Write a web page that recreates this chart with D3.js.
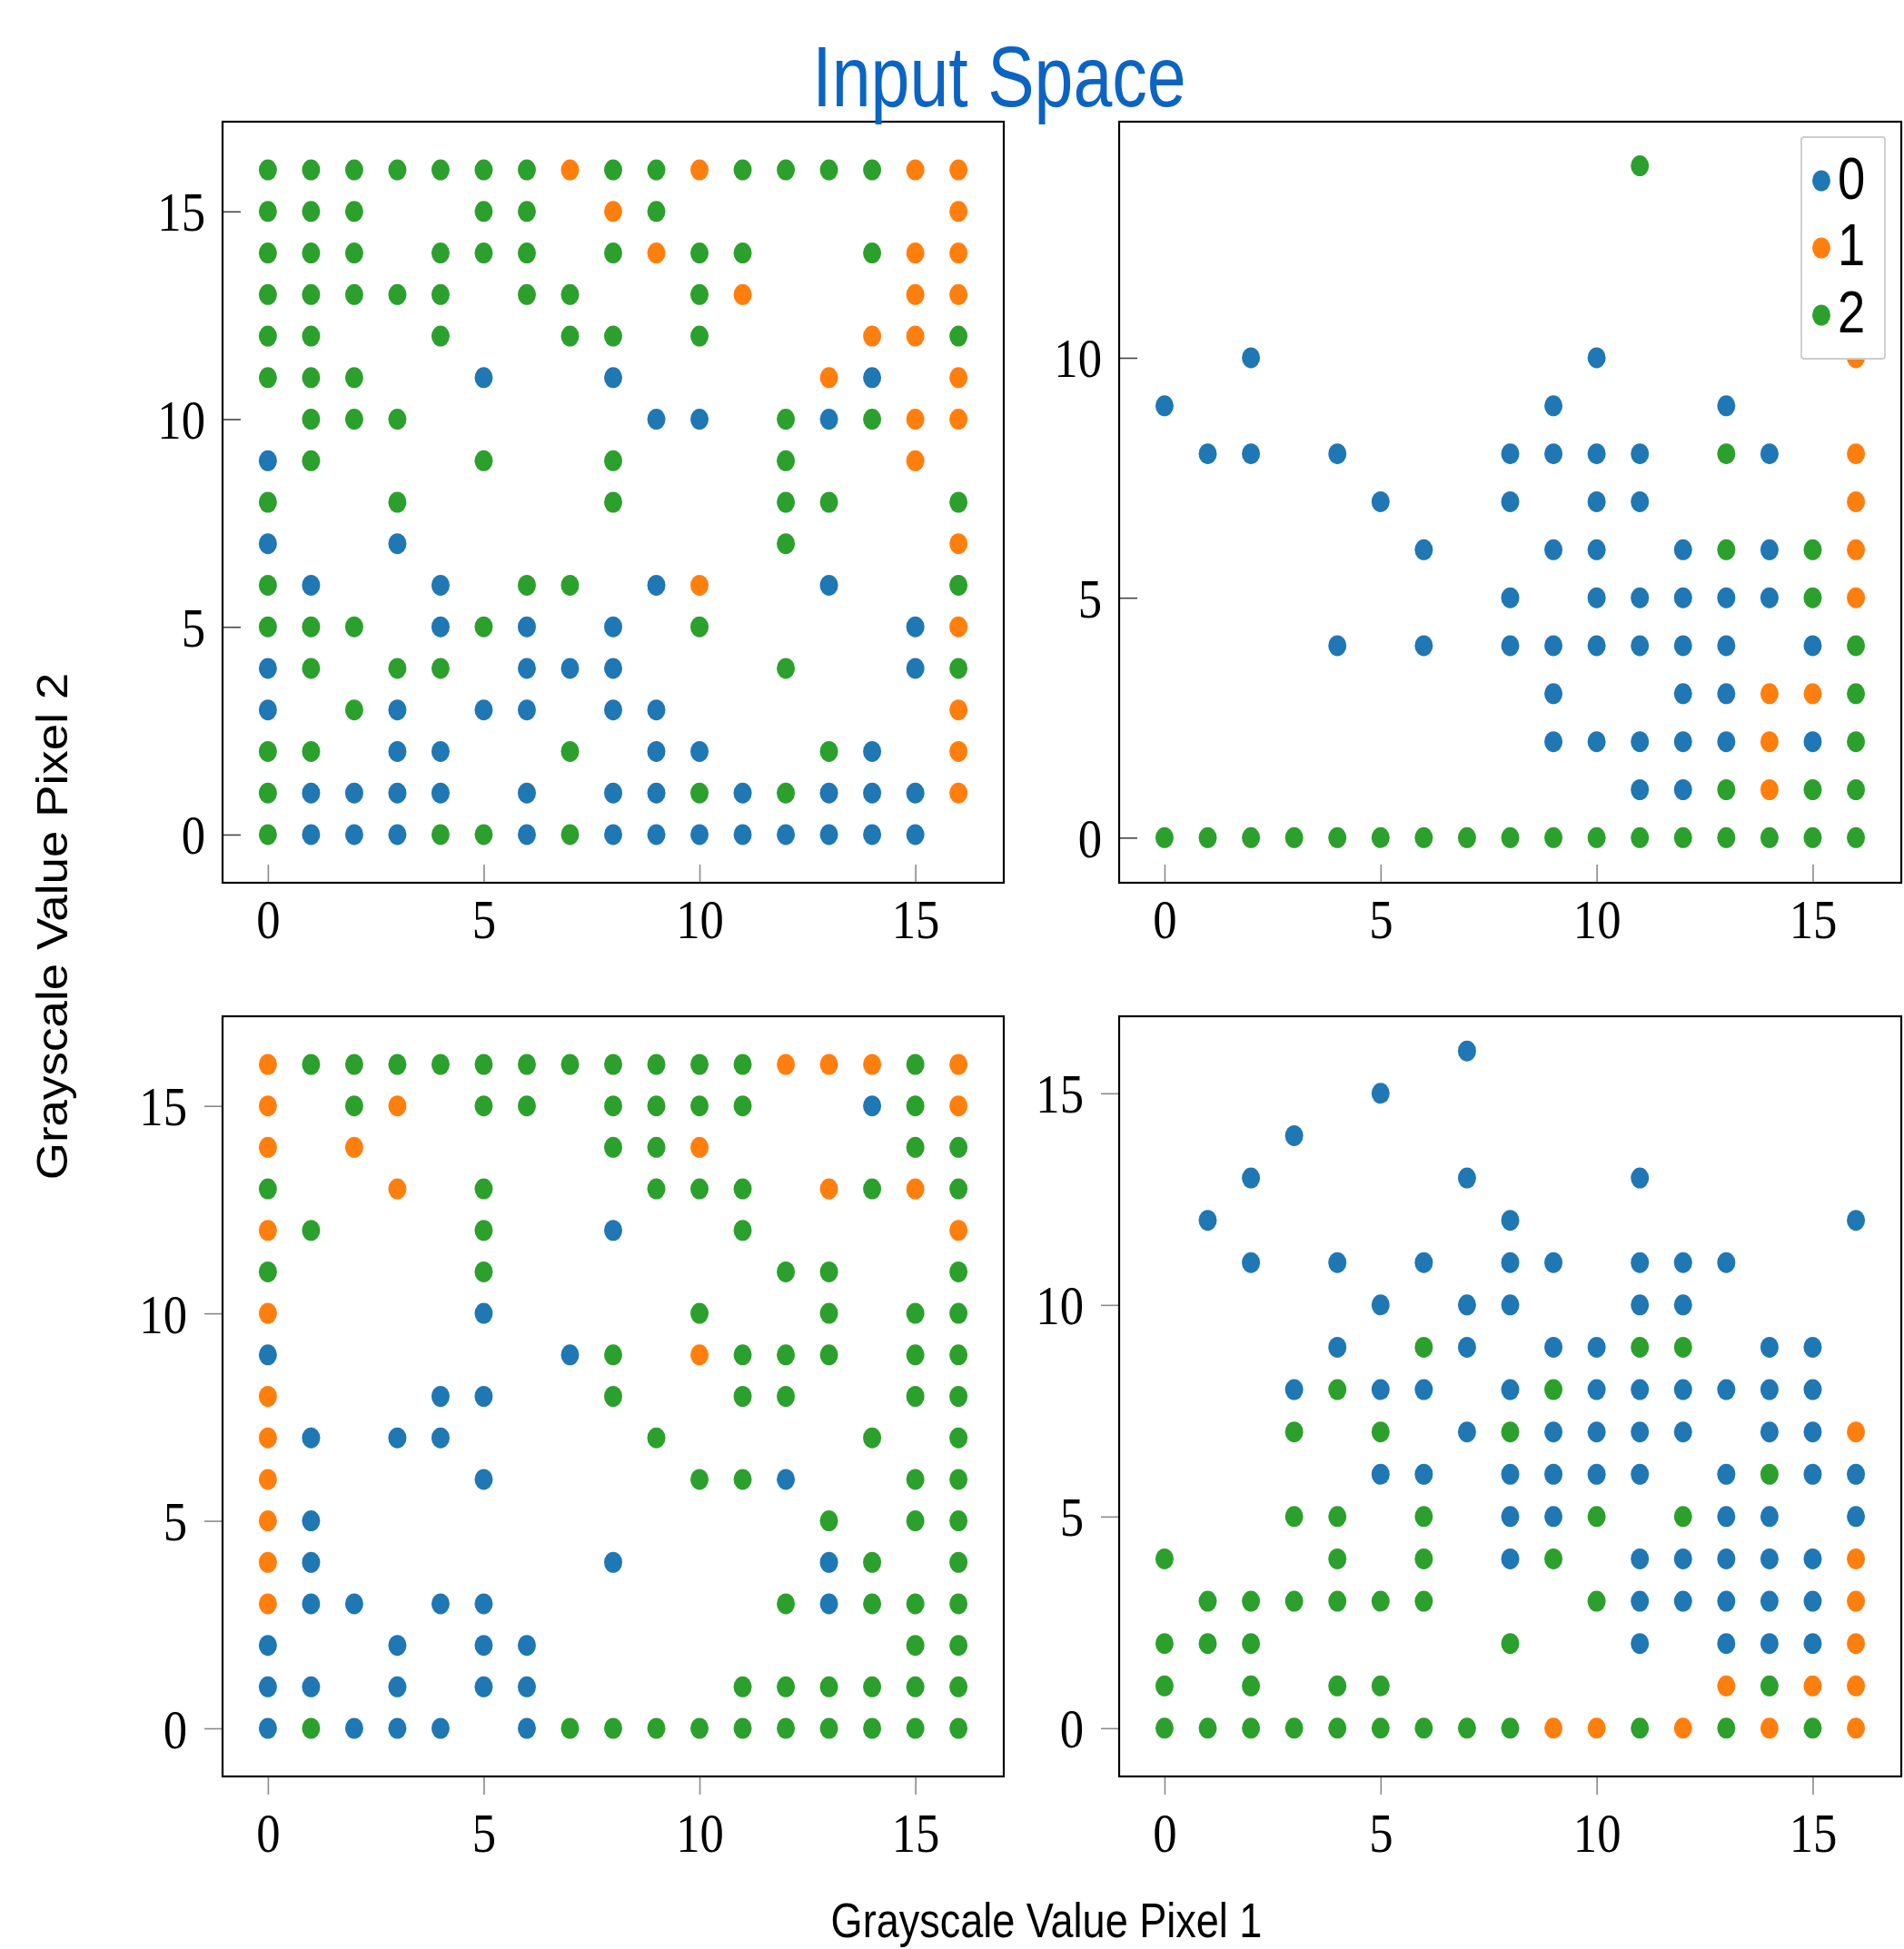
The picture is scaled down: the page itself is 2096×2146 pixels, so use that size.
<!DOCTYPE html>
<html><head><meta charset="utf-8">
<script src="https://cdn.jsdelivr.net/npm/d3@7"></script>
<style>body{margin:0;background:#fff}</style>
</head><body>
<svg id="c" width="2096" height="2146" xmlns="http://www.w3.org/2000/svg"></svg>
<script>
// ---- data ----
const classLabels = ["0", "1", "2"];
const classColors = ["#1f77b4", "#ff7f0e", "#2ca02c"];
const xTickValues = [0, 5, 10, 15];
const yTicksTop = [0, 5, 10, 15];
const yTicksTopRight = [0, 5, 10];
const yTicksBottom = [0, 5, 10, 15];
const titleText = "Input Space";
const xLabelText = "Grayscale Value Pixel 1";
const yLabelText = "Grayscale Value Pixel 2";
// grids: row i is y = 16 - i, char j is x = j; digit = class, '.' = no point
const gridTopLeft = [
  "22222221221222211",
  "222..22.12......1",
  "222.222.2122..211",
  "22222.22..21...11",
  "22..2..22.2...112",
  "222..0..0....10.1",
  ".222.....00.20211",
  "02...2..2...2..1.",
  "2..2....2...22..2",
  "0..0........2...1",
  "20..0.22.01..0..2",
  "222.020.0.2....01",
  "02.22.000...2..02",
  "0.20.00.00......1",
  "22.00..2.00..20.1",
  "20000.0.002020001",
  "2000220200000000."
];
const gridTopRight = [
  ".................",
  ".................",
  "...........2.....",
  ".................",
  ".................",
  ".................",
  "..0.......0.....1",
  "0........0...0...",
  ".00.0...0000.20.1",
  ".....0..0.00....1",
  "......0..00.02021",
  "........0.0000021",
  "....0.0.000000.02",
  ".........0..00112",
  ".........00000102",
  "...........002122",
  "22222222222222222"
];
const gridBottomLeft = [
  "12222222222211121",
  "1.21.22.2222..021",
  "1.1.....221....22",
  "2..1.2...222.1212",
  "12...2..0..2....1",
  "2....2......22..2",
  "1....0....2..2.22",
  "0......02.1222.22",
  "1...00..2..22..22",
  "10.00....2....2.2",
  "1....0....220..22",
  "10...........2.22",
  "10......0....02.2",
  "100.00......20222",
  "0..0.00........22",
  "00.0.00....222222",
  "02000.02222222222"
];
const gridBottomRight = [
  ".......0.........",
  ".....0...........",
  "...0.............",
  "..0....0...0.....",
  ".0......0.......0",
  "..0.0.0.00.000...",
  ".....0.00..00....",
  "....0.20.0022.00.",
  "...0200.02000000.",
  "...2.2.020000.001",
  ".....00.0000.0200",
  "...22.2.002.200.0",
  "2...2.2.02.000001",
  ".222222...2000001",
  "222.....2..0.0001",
  "2.2.22.......1211",
  "22222222211212121"
];

// ---- layout ----
const panels = [
  {grid: gridTopLeft, x0: 245, x1: 1105, y0: 134, y1: 972, xd: [-1.05, 17.05], yd: [-1.16, 17.16], yt: yTicksTop, inside: true, legend: false},
  {grid: gridTopRight, x0: 1232, x1: 2093, y0: 134, y1: 972, xd: [-1.05, 17.05], yd: [-0.94, 14.92], yt: yTicksTopRight, inside: true, legend: true},
  {grid: gridBottomLeft, x0: 245, x1: 1105, y0: 1119, y1: 1956, xd: [-1.05, 17.05], yd: [-1.16, 17.16], yt: yTicksBottom, inside: false, legend: false},
  {grid: gridBottomRight, x0: 1232, x1: 2093, y0: 1119, y1: 1956, xd: [-1.05, 17.05], yd: [-1.14, 16.82], yt: yTicksBottom, inside: false, legend: false}
];
const SX = 0.85;
const svg = d3.select("#c");
svg.append("rect").attr("width", 2096).attr("height", 2146).attr("fill", "#fff");

function parseGrid(grid) {
  const pts = [];
  grid.forEach((row, i) => {
    for (let j = 0; j < row.length; j++) {
      const c = row[j];
      if (c !== ".") pts.push({x: j, y: 16 - i, cls: +c});
    }
  });
  pts.sort((a, b) => a.cls - b.cls);
  return pts;
}

panels.forEach(p => {
  const xs = d3.scaleLinear().domain(p.xd).range([p.x0, p.x1]);
  const ys = d3.scaleLinear().domain(p.yd).range([p.y1, p.y0]);
  const g = svg.append("g");
  const pts = parseGrid(p.grid);
  g.append("g").selectAll("ellipse").data(pts).join("ellipse")
    .attr("cx", d => xs(d.x)).attr("cy", d => ys(d.y))
    .attr("rx", 10).attr("ry", 11.5)
    .attr("fill", d => classColors[d.cls]);

  // x axis
  const xa = d3.axisBottom(xs).tickValues(xTickValues).tickSize(p.inside ? -20 : 20).tickFormat(d3.format("d"));
  const gx = g.append("g").attr("transform", `translate(0,${p.y1})`).call(xa);
  gx.select(".domain").remove();
  gx.selectAll(".tick line").attr("stroke", "#8a8a8a").attr("stroke-width", 1.6);
  gx.selectAll(".tick text")
    .attr("font-family", "'Liberation Serif', 'DejaVu Serif', serif")
    .attr("font-size", 62).attr("fill", "#000")
    .attr("dy", null).attr("y", p.inside ? 61 : 83)
    .attr("text-anchor", "middle")
    .attr("transform", `scale(${SX},1)`);

  // y axis
  const ya = d3.axisLeft(ys).tickValues(p.yt).tickSize(p.inside ? -20 : 20).tickFormat(d3.format("d"));
  const gy = g.append("g").attr("transform", `translate(${p.x0},0)`).call(ya);
  gy.select(".domain").remove();
  gy.selectAll(".tick line").attr("stroke", p.inside ? "#444" : "#8a8a8a").attr("stroke-width", 1.6);
  const gap = p.inside ? 19 : 39;
  gy.selectAll(".tick text")
    .attr("font-family", "'Liberation Serif', 'DejaVu Serif', serif")
    .attr("font-size", 62).attr("fill", "#000")
    .attr("dy", null).attr("y", 21).attr("x", -gap / SX)
    .attr("text-anchor", "end")
    .attr("transform", `scale(${SX},1)`);

  // frame
  g.append("rect").attr("x", p.x0).attr("y", p.y0)
    .attr("width", p.x1 - p.x0).attr("height", p.y1 - p.y0)
    .attr("fill", "none").attr("stroke", "#000").attr("stroke-width", 2.2);

  if (p.legend) {
    const lg = g.append("g");
    lg.append("rect").attr("x", 1983).attr("y", 151).attr("width", 92).attr("height", 244)
      .attr("rx", 3).attr("fill", "#fff").attr("stroke", "#cccccc").attr("stroke-width", 1.8);
    classLabels.forEach((lab, i) => {
      const cy = 199 + i * 74;
      lg.append("ellipse").attr("cx", 2005).attr("cy", cy).attr("rx", 10).attr("ry", 11.5).attr("fill", classColors[i]);
      lg.append("text").attr("x", 2023 / SX).attr("y", 219 + i * 73.5)
        .attr("transform", `scale(${SX},1)`)
        .attr("font-family", "'Liberation Sans', Arial, sans-serif").attr("font-size", 64)
        .attr("fill", "#000").text(lab);
    });
  }
});

// title
svg.append("text").attr("x", 1100 / 0.82).attr("y", 117)
  .attr("transform", "scale(0.82,1)")
  .attr("text-anchor", "middle")
  .attr("font-family", "'Liberation Sans', Arial, sans-serif").attr("font-size", 94)
  .attr("fill", "#0b64c4").text(titleText);

// axis labels
svg.append("text").attr("x", 1152 / SX).attr("y", 2133)
  .attr("transform", `scale(${SX},1)`)
  .attr("text-anchor", "middle")
  .attr("font-family", "'Liberation Sans', Arial, sans-serif").attr("font-size", 53)
  .attr("fill", "#000").text(xLabelText);

svg.append("text")
  .attr("transform", "translate(74,1020) scale(0.9,1) rotate(-90)")
  .attr("text-anchor", "middle")
  .attr("font-family", "'Liberation Sans', Arial, sans-serif").attr("font-size", 53)
  .attr("fill", "#000").text(yLabelText);
</script>
</body></html>
